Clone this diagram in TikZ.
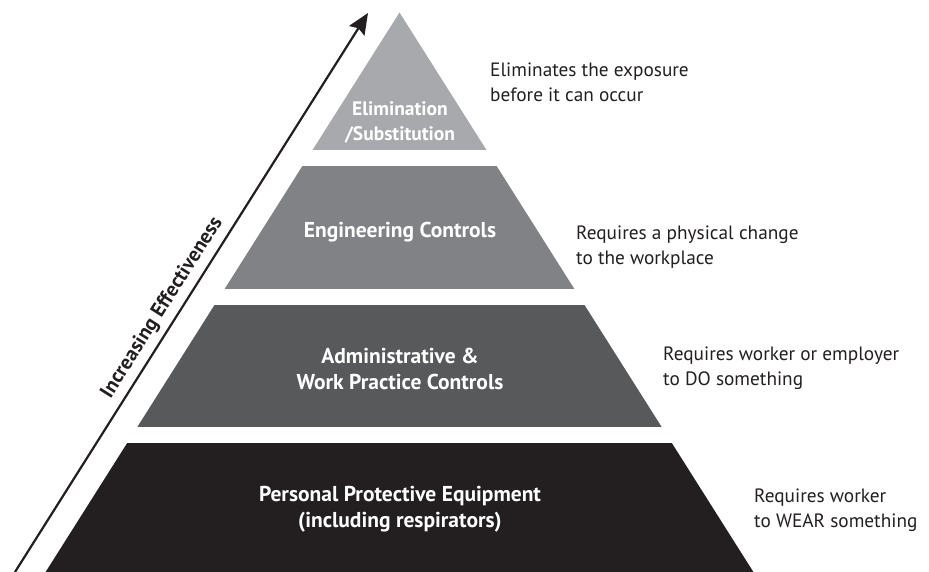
\documentclass[tikz,border=0pt]{standalone}
\usepackage{fontspec}
\setmainfont{PT Sans}
\usetikzlibrary{arrows.meta}
\definecolor{tierA}{HTML}{A7A9AC}
\definecolor{tierB}{HTML}{808285}
\definecolor{tierC}{HTML}{58595B}
\definecolor{tierD}{HTML}{231F20}
\definecolor{ink}{HTML}{231F20}
\begin{document}
\begin{tikzpicture}[x=1pt,y=-1pt,
  tierlabel/.style={text=white,font=\bfseries\fontsize{21.5}{26}\selectfont,align=center,inner sep=0pt},
  toplabel/.style={tierlabel,font=\bfseries\fontsize{19.5}{25}\selectfont},
  note/.style={text=ink,font=\fontsize{19.3}{25}\selectfont,align=left,anchor=west,inner sep=0pt},
  effarrow/.style={draw=ink,line width=2.2pt,-{Stealth[length=21pt,width=18pt,inset=3pt]}}]
\useasboundingbox (0,0) rectangle (929,572);
% pyramid outline
\coordinate (apex) at (399.5,12.5);
\coordinate (baseL) at (45.6,572);
\coordinate (baseR) at (753.4,572);
\begin{scope}
  \clip (apex) -- (baseL) -- (baseR) -- cycle;
  \fill[tierA] (0,0) rectangle (929,150);
  \fill[tierB] (0,166) rectangle (929,289);
  \fill[tierC] (0,305) rectangle (929,427);
  \fill[tierD] (0,443) rectangle (929,572);
\end{scope}
% tier labels
\node[toplabel] (elim) at (400,122) {Elimination\\/Substitution};
\node[tierlabel] (eng) at (400,232.5) {Engineering Controls};
\node[tierlabel] (admin) at (400,368.5) {Administrative \&\\Work Practice Controls};
\node[tierlabel] (ppe) at (400,509) {Personal Protective Equipment\\(including respirators)};
% notes
\node[note] (n1) at (490,82.5) {Eliminates the exposure\\before it can occur};
\node[note] (n2) at (576,247) {Requires a physical change\\to the workplace};
\node[note] (n3) at (663,368) {Requires worker or employer\\to DO something};
\node[note] (n4) at (754,510.5) {Requires worker\\to WEAR something};
% effectiveness arrow
\coordinate (arrS) at (15,572);
\coordinate (arrE) at (368,13);
\draw[effarrow] (arrS) -- (arrE) node[pos=0.457,sloped,above=6pt,text=ink,font=\bfseries\fontsize{20.5}{25}\selectfont,inner sep=0pt] (eff) {Increasing Effectiveness};
\end{tikzpicture}
\end{document}
